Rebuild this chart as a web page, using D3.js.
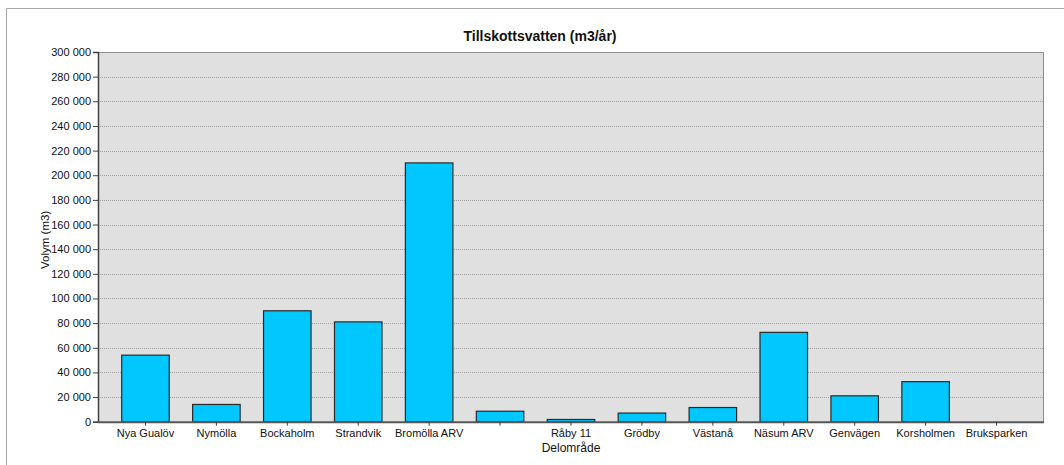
<!DOCTYPE html>
<html>
<head>
<meta charset="utf-8">
<script src="https://cdn.jsdelivr.net/npm/d3@7"></script>
<style>
  html, body { margin: 0; padding: 0; background: #fff; }
  svg { display: block; font-family: "Liberation Sans", Arial, sans-serif; }
</style>
</head>
<body>
<svg id="chart" width="1064" height="465"></svg>
<script>
// Tillskottsvatten per delområde (m3/år)
const categories = ["Nya Gualöv", "Nymölla", "Bockaholm", "Strandvik", "Bromölla ARV", "",
  "Råby 11", "Grödby", "Västanå", "Näsum ARV", "Genvägen", "Korsholmen", "Bruksparken"];
const volumes = [54000, 14000, 90000, 81000, 210000, 8500, 1800, 7000, 11500, 72500, 21000, 32500, 0];
const yTicks = [0, 20000, 40000, 60000, 80000, 100000, 120000, 140000, 160000, 180000,
  200000, 220000, 240000, 260000, 280000, 300000];
const chartTitle = "Tillskottsvatten (m3/år)";
const xTitle = "Delområde";
const yTitle = "Volym (m3)";

const svg = d3.select("#chart");
const plot = { left: 98, right: 1044, top: 52, bottom: 421.7 };

// outer frame
svg.append("path")
  .attr("d", "M6.5,465 V8.5 H1064")
  .attr("fill", "none").attr("stroke", "#a8a8a8").attr("stroke-width", 1);

const x = d3.scaleBand().domain(categories.map((c, i) => i))
  .range([110, 1032]).paddingInner(0.33).paddingOuter(0.165);
const y = d3.scaleLinear().domain([0, 300000]).range([plot.bottom, plot.top]);

// plot background
svg.append("rect")
  .attr("x", plot.left).attr("y", plot.top)
  .attr("width", plot.right - plot.left).attr("height", plot.bottom - plot.top)
  .attr("fill", "#e0e0e0");

// dotted gridlines
svg.append("g").selectAll("line").data(yTicks.filter(v => v > 0 && v < 300000)).join("line")
  .attr("x1", plot.left).attr("x2", plot.right)
  .attr("y1", d => Math.round(y(d)) + 0.5).attr("y2", d => Math.round(y(d)) + 0.5)
  .attr("stroke", "#a0a0a0").attr("stroke-width", 1).attr("stroke-dasharray", "1,1");

// plot border (top, right)
svg.append("path")
  .attr("d", `M${plot.left},${plot.top + 0.5} H${plot.right - 0.5} V${plot.bottom}`)
  .attr("fill", "none").attr("stroke", "#8c8c8c").attr("stroke-width", 1);

// bars
svg.append("g").selectAll("rect").data(volumes).join("rect")
  .attr("x", (d, i) => x(i))
  .attr("width", x.bandwidth())
  .attr("y", d => y(d))
  .attr("height", d => plot.bottom - y(d))
  .attr("fill", "#00c8ff")
  .attr("stroke", "#2a2a2a").attr("stroke-width", 1.2);

// y axis
const yAxis = svg.append("g").attr("transform", `translate(${plot.left},0)`)
  .call(d3.axisLeft(y).tickValues(yTicks).tickSize(5).tickPadding(2)
    .tickFormat(d => d3.format(",")(d).replace(/,/g, " ")));
yAxis.select(".domain").attr("stroke", "#404040").attr("stroke-width", 1.5);
yAxis.selectAll(".tick line").attr("stroke", "#404040");
yAxis.selectAll(".tick text").attr("font-size", 11).attr("fill", "#111")
  .attr("font-family", "Liberation Sans, Arial, sans-serif");

// x axis
const xAxis = svg.append("g").attr("transform", `translate(0,${plot.bottom})`)
  .call(d3.axisBottom(x).tickSize(4).tickSizeOuter(0).tickPadding(4)
    .tickFormat(i => categories[i]));
xAxis.select(".domain").attr("d", `M${plot.left},0.5H${plot.right}`)
  .attr("stroke", "#555").attr("stroke-width", 2);
xAxis.selectAll(".tick line").attr("stroke", "#404040");
xAxis.selectAll(".tick text").attr("font-size", 11).attr("fill", "#111")
  .attr("font-family", "Liberation Sans, Arial, sans-serif");

// titles
svg.append("text").attr("x", 540).attr("y", 41)
  .attr("text-anchor", "middle").attr("font-size", 14).attr("font-weight", "bold")
  .attr("fill", "#111").text(chartTitle);
svg.append("text").attr("x", (plot.left + plot.right) / 2).attr("y", 452)
  .attr("text-anchor", "middle").attr("font-size", 12).attr("fill", "#111").text(xTitle);
svg.append("text")
  .attr("transform", `translate(49,${(plot.top + plot.bottom) / 2 + 3}) rotate(-90)`)
  .attr("text-anchor", "middle").attr("font-size", 11.5).attr("fill", "#111").text(yTitle);
</script>
</body>
</html>
